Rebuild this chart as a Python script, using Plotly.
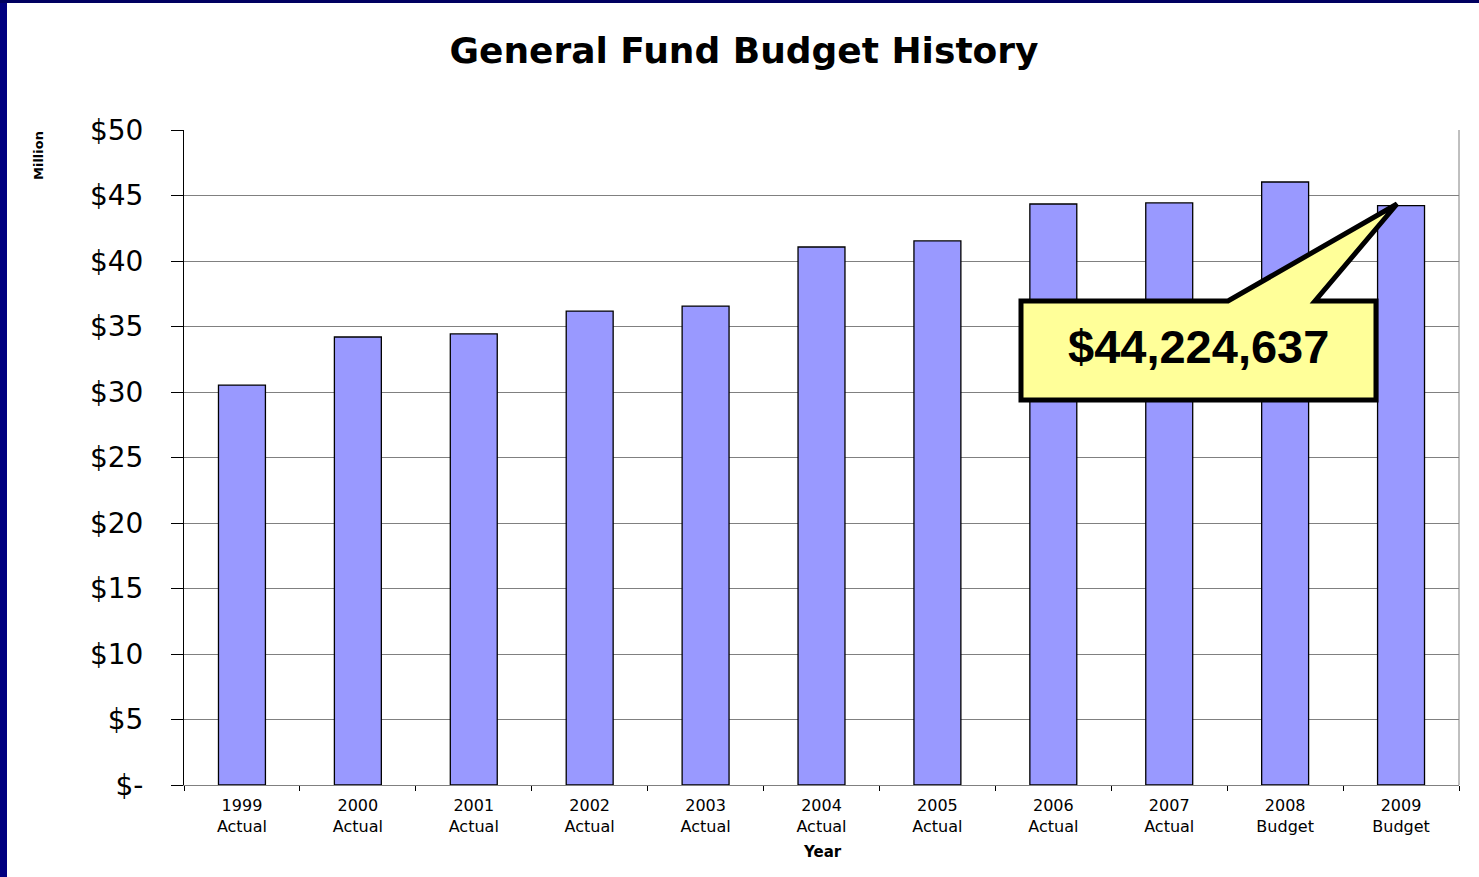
import plotly.graph_objects as go

years = ["1999", "2000", "2001", "2002", "2003", "2004", "2005", "2006", "2007", "2008", "2009"]
kinds = ["Actual"] * 9 + ["Budget", "Budget"]
values_millions = [30.53, 34.2, 34.43, 36.18, 36.56, 41.07, 41.53, 44.35, 44.43, 46.03, 44.224637]
y_tickvals = [0, 5, 10, 15, 20, 25, 30, 35, 40, 45, 50]
y_ticktext = ["$-", "$5", "$10", "$15", "$20", "$25", "$30", "$35", "$40", "$45", "$50"]
callout_text = "$44,224,637"

categories = [f"{y}<br>{k}" for y, k in zip(years, kinds)]

W, H = 1479, 877
ML, MR, MT, MB = 184, 20, 130, 92
PW, PH = W - ML - MR, H - MT - MB


def px(x):
    return (x - ML) / PW


def py(y):
    return (H - MB - y) / PH


fig = go.Figure()
fig.add_trace(go.Bar(
    x=categories, y=values_millions,
    marker=dict(color="#9999FF", line=dict(color="black", width=1.3)),
    hoverinfo="x+y",
))

pts = [(1021, 301), (1228, 301), (1397, 204), (1315, 301), (1376, 301), (1376, 400), (1021, 400)]
path = "M " + " L ".join(f"{px(a):.5f},{py(b):.5f}" for a, b in pts) + " Z"

shapes = [
    # navy frame (left and top)
    dict(type="rect", xref="paper", yref="paper", x0=px(-2), x1=px(7), y0=py(880), y1=py(-2),
         fillcolor="#000080", line=dict(width=0), layer="above"),
    dict(type="rect", xref="paper", yref="paper", x0=px(-2), x1=px(1482), y0=py(3), y1=py(-2),
         fillcolor="#000060", line=dict(width=0), layer="above"),
    # right border of plot area
    dict(type="line", xref="paper", yref="paper", x0=1, x1=1, y0=0, y1=1,
         line=dict(color="#808080", width=1)),
    # callout
    dict(type="path", xref="paper", yref="paper", path=path,
         fillcolor="#FFFF99", line=dict(color="black", width=5), layer="above"),
]

annotations = [
    dict(text="<b>" + callout_text + "</b>", xref="paper", yref="paper", x=px(1198), y=py(346),
         showarrow=False, font=dict(family="Liberation Sans, Arial", size=47, color="black"),
         xanchor="center", yanchor="middle"),
    dict(text="<b>Million</b>", xref="paper", yref="paper", x=px(38), y=py(156),
         showarrow=False, textangle=-90, font=dict(family="DejaVu Sans, Arial", size=13, color="black"),
         xanchor="center", yanchor="middle"),
    dict(text="<b>Year</b>", xref="paper", yref="paper", x=px(822), y=py(852),
         showarrow=False, font=dict(family="DejaVu Sans, Arial", size=15, color="black"),
         xanchor="center", yanchor="middle"),
]

fig.update_layout(
    width=W, height=H,
    margin=dict(l=ML, r=MR, t=MT, b=MB),
    paper_bgcolor="white", plot_bgcolor="white",
    title=dict(text="<b>General Fund Budget History</b>", x=744 / W, xanchor="center",
               y=1 - 50 / H, yanchor="middle", yref="container",
               font=dict(family="DejaVu Sans, Arial", size=36, color="black")),
    bargap=0.595,
    showlegend=False,
    shapes=shapes,
    annotations=annotations,
    xaxis=dict(
        type="category", tickson="boundaries", ticks="outside", ticklen=5, tickcolor="black",
        showline=True, linecolor="#808080", linewidth=1, showgrid=False,
        tickfont=dict(family="DejaVu Sans, Arial", size=16, color="black"),
        ticklabelstandoff=6,
    ),
    yaxis=dict(
        range=[0, 50], tickvals=y_tickvals, ticktext=y_ticktext,
        ticks="outside", ticklen=12, tickcolor="black",
        showline=True, linecolor="black", linewidth=1,
        showgrid=True, gridcolor="#808080", gridwidth=1, zeroline=False,
        tickfont=dict(family="DejaVu Sans, Arial", size=28, color="black"),
        ticklabelstandoff=22,
    ),
)

fig.write_html("out.html", config={"displayModeBar": False},
               post_script="document.body.style.margin='0';document.body.style.overflow='hidden';")
